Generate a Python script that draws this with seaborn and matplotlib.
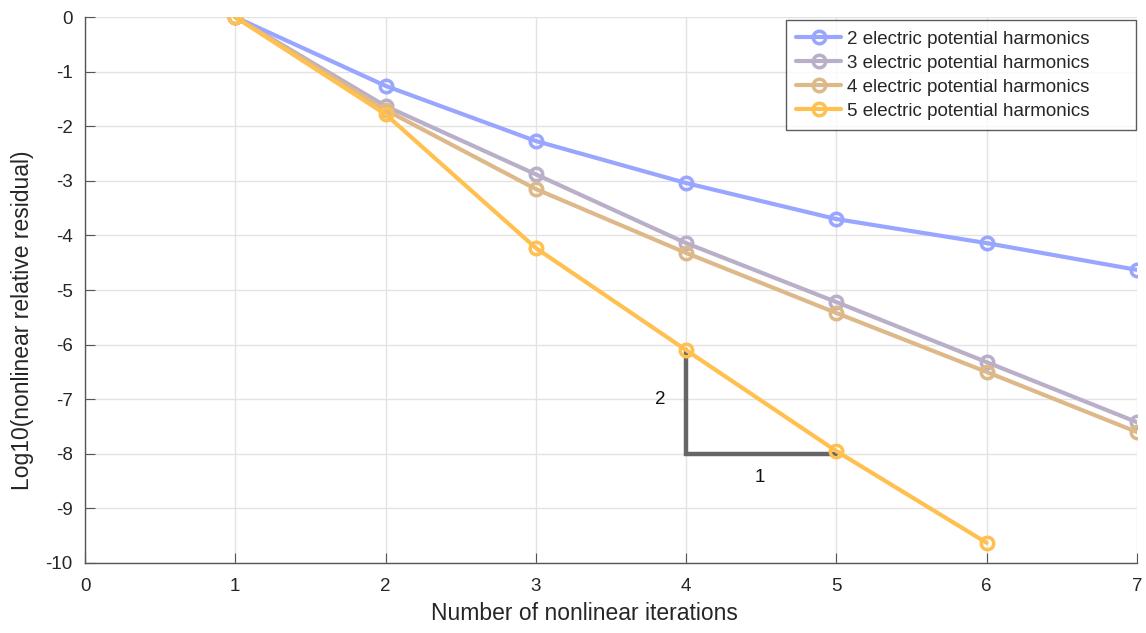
import numpy as np
import pandas as pd
import matplotlib
matplotlib.use("Agg")
import matplotlib.pyplot as plt
import seaborn as sns

iters = [1, 2, 3, 4, 5, 6, 7]
h2 = [0.0, -1.26, -2.27, -3.04, -3.70, -4.14, -4.63]
h3 = [0.0, -1.63, -2.88, -4.14, -5.22, -6.32, -7.42]
h4 = [0.0, -1.70, -3.15, -4.32, -5.42, -6.50, -7.60]
h5 = [0.0, -1.78, -4.23, -6.10, -7.95, -9.63]
labels = ["2 electric potential harmonics", "3 electric potential harmonics",
          "4 electric potential harmonics", "5 electric potential harmonics"]
colors = ["#99A6FF", "#B9AFC9", "#DDB98A", "#FFC050"]

rows = []
for lab, vals in zip(labels, [h2, h3, h4, h5]):
    for x, v in zip(iters, vals):
        rows.append({"it": x, "res": v, "series": lab})
df = pd.DataFrame(rows)

sns.set_style("white")
plt.rcParams['font.family'] = ['Liberation Sans', 'DejaVu Sans']

fig = plt.figure(figsize=(11.46, 6.33), dpi=100)
ax = fig.add_axes([0.0742, 0.1106, 0.9178, 0.8624])

sns.lineplot(data=df, x="it", y="res", hue="series", palette=colors,
             marker="o", markersize=9, markerfacecolor="none",
             markeredgewidth=2.5, linewidth=3, ax=ax, zorder=3)
for line in ax.lines:
    line.set_markeredgecolor(line.get_color())

# slope triangle
ax.plot([4, 4, 5], [-6.1, -8, -8], color="#666666", linewidth=3.2, zorder=2,
        solid_joinstyle="miter")
ax.text(3.83, -7.0, "2", fontsize=13.5, ha="center", va="center", color="#111111")
ax.text(4.49, -8.44, "1", fontsize=13.5, ha="center", va="center", color="#111111")

ax.set_xlim(0, 7)
ax.set_ylim(-10, 0)
ax.set_xticks(range(0, 8))
ax.set_yticks(range(-10, 1))
ax.set_yticklabels([str(v) for v in range(-10, 1)])
ax.grid(True, color="#e3e3e3", linewidth=1)
ax.set_axisbelow(True)
for s in ["top", "right"]:
    ax.spines[s].set_visible(False)
for s in ["left", "bottom"]:
    ax.spines[s].set_color("#555555")
    ax.spines[s].set_linewidth(1)
ax.tick_params(direction="in", length=7, color="#555555", labelsize=13.5,
               labelcolor="#262626", left=True, bottom=True)
ax.tick_params(axis="y", pad=9)
ax.tick_params(axis="x", pad=11)
ax.set_xlabel("Number of nonlinear iterations", fontsize=16.5, color="#262626",
              labelpad=5)
ax.set_ylabel("Log10(nonlinear relative residual)", fontsize=16.5, color="#262626",
              labelpad=8)
ax.xaxis.label.set_x(0.4744)
ax.yaxis.label.set_y(0.445)

leg = ax.legend(loc="upper left", bbox_to_anchor=(0.6665, 0.0, 0.3327, 0.9945),
                mode="expand", fontsize=13.5,
                frameon=True, fancybox=False, edgecolor="#333333",
                borderpad=0.55, labelspacing=0.37, handlelength=2.4,
                handletextpad=0.3, borderaxespad=0.0)
leg.get_frame().set_linewidth(1)

fig.savefig("out.png", dpi=100)
